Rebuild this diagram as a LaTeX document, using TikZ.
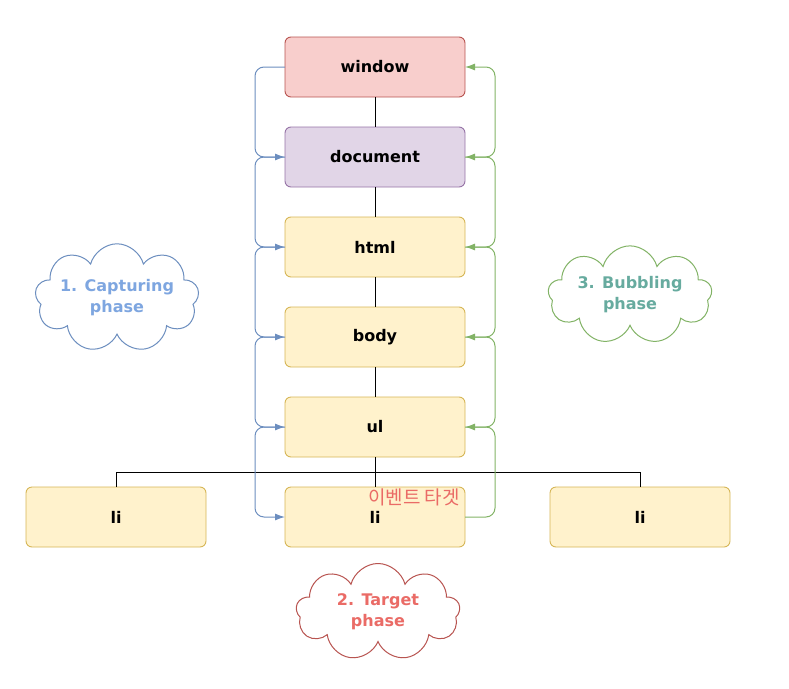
\documentclass[tikz,border=0pt]{standalone}
\usepackage{fontspec}
\setmainfont{DejaVu Sans}
\newfontfamily\krfont{Noto Sans CJK KR}
\usetikzlibrary{shapes.symbols,arrows.meta,positioning}
\definecolor{redfill}{HTML}{F8CECC}
\definecolor{redline}{HTML}{B85450}
\definecolor{purplefill}{HTML}{E1D5E7}
\definecolor{purpleline}{HTML}{9673A6}
\definecolor{yellowfill}{HTML}{FFF2CC}
\definecolor{yellowline}{HTML}{D6B656}
\definecolor{blueline}{HTML}{6C8EBF}
\definecolor{greenline}{HTML}{82B366}
\definecolor{bluetext}{HTML}{7EA6E0}
\definecolor{greentext}{HTML}{67AB9F}
\definecolor{redtext}{HTML}{EA6B66}
\tikzset{
  elem/.style={draw=yellowline,fill=yellowfill,rounded corners=6pt,line width=0.9pt,outer sep=0pt,
    minimum width=180pt,minimum height=60pt,font=\fontsize{16}{19}\selectfont\bfseries},
  capture/.style={draw=blueline,line width=1pt,rounded corners=9pt,-{Latex[length=10pt,width=7pt]}},
  bubble/.style={draw=greenline,line width=1pt,rounded corners=9pt,-{Latex[length=10pt,width=7pt]}},
  phase/.style={cloud,cloud puffs=9,aspect=1.75,line width=1pt,fill=white,inner sep=-9pt,
    minimum width=164pt,minimum height=97pt,align=center,
    font=\fontsize{16}{21}\selectfont\bfseries}
}
\begin{document}
\begin{tikzpicture}[x=1pt,y=1pt,node distance=30pt]
\useasboundingbox (0,0) rectangle (789,-688);
% element tree
\node[elem,draw=redline,fill=redfill] (window) at (375,-67) {window};
\node[elem,draw=purpleline,fill=purplefill,below=of window] (document) {document};
\node[elem,below=of document] (html) {html};
\node[elem,below=of html] (body) {body};
\node[elem,below=of body] (ul) {ul};
\node[elem,below=of ul] (limid) {li};
\node[elem,left=79pt of limid] (lileft) {li};
\node[elem,right=85pt of limid] (liright) {li};
\draw[line width=1pt] (window) -- (document);
\draw[line width=1pt] (document) -- (html);
\draw[line width=1pt] (html) -- (body);
\draw[line width=1pt] (body) -- (ul);
\draw[line width=1pt] (ul) -- (limid);
\draw[line width=1pt] (lileft.north) -- ++(0,15) -| (liright.north);
% capturing
\draw[capture] (window.west) -- ++(-30,0) |- (document.west);
\draw[capture] (document.west) -- ++(-30,0) |- (html.west);
\draw[capture] (html.west) -- ++(-30,0) |- (body.west);
\draw[capture] (body.west) -- ++(-30,0) |- (ul.west);
\draw[capture] (ul.west) -- ++(-30,0) |- (limid.west);
% bubbling
\draw[bubble] (limid.east) -- ++(30,0) |- (ul.east);
\draw[bubble] (ul.east) -- ++(30,0) |- (body.east);
\draw[bubble] (body.east) -- ++(30,0) |- (html.east);
\draw[bubble] (html.east) -- ++(30,0) |- (document.east);
\draw[bubble] (document.east) -- ++(30,0) |- (window.east);
% labels
\node[font=\krfont\fontsize{19}{21}\selectfont,text=redtext] (target) at (414,-497) {이벤트 타겟};
\node[phase,draw=blueline,text=bluetext] (capphase) at (117,-298) {1. Capturing\\phase};
\node[phase,draw=greenline,text=greentext] (bubphase) at (630,-295) {3. Bubbling\\phase};
\node[phase,draw=redline,text=redtext] (tarphase) at (378,-612) {2. Target\\phase};
\end{tikzpicture}
\end{document}
